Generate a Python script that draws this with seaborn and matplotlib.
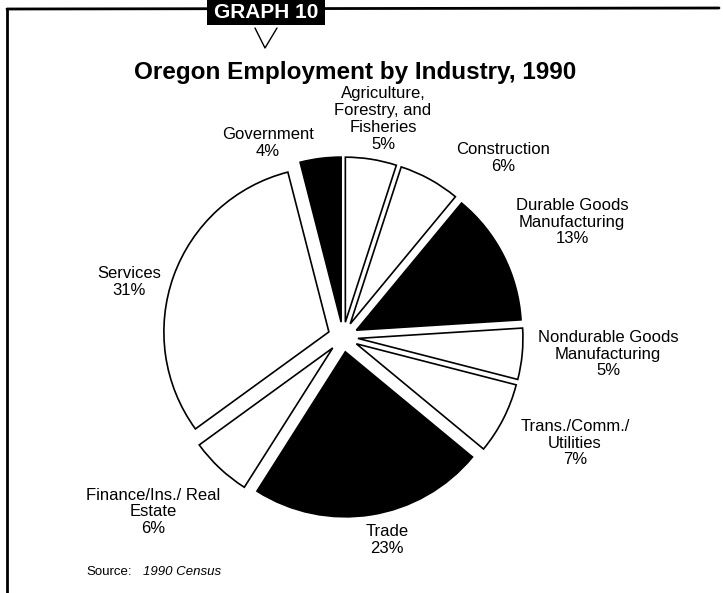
import seaborn as sns
from matplotlib import pyplot as plt
from matplotlib.patches import Rectangle

# data, clockwise from 12 o'clock
industries = ['Agriculture,\nForestry, and\nFisheries', 'Construction',
              'Durable Goods\nManufacturing', 'Nondurable Goods\nManufacturing',
              'Trans./Comm./\nUtilities', 'Trade', 'Finance/Ins./ Real\nEstate',
              'Services', 'Government']
shares = [5, 6, 13, 5, 7, 23, 6, 31, 4]
fills = ['white', 'white', 'black', 'white', 'white', 'black', 'white', 'white', 'black']

# label centres in picture pixels (x, y from top)
label_pos = [(383, 119), (503, 158), (572, 222), (608, 354), (575, 443),
             (387, 540), (153, 512), (129, 282), (268, 143)]

W, H = 723, 593

sns.set_theme(style='white')
plt.rcParams['font.family'] = ['Liberation Sans', 'DejaVu Sans']

fig = plt.figure(figsize=(W / 100, H / 100), dpi=100)
ax = fig.add_axes([0, 0, 1, 1])

# the pie, every slice pulled out ~15 px (explode is in data units here)
ax.pie(shares, colors=fills, startangle=90, counterclock=False,
       center=(343, H - 337), radius=165, explode=[15] * len(shares),
       wedgeprops=dict(edgecolor='black', linewidth=1.2), frame=True)

for name, pct, (x, y) in zip(industries, shares, label_pos):
    ax.text(x, H - y, f'{name}\n{pct}%', ha='center', va='center',
            fontsize=12, linespacing=1.15, color='black')

ax.text(355, H - 72, 'Oregon Employment by Industry, 1990', ha='center', va='center',
        fontsize=17.5, fontweight='bold', color='black')

# page frame and "GRAPH 10" tab
ax.plot([7, 7], [0, H - 9], color='black', lw=2)
ax.plot([7, 719], [H - 9, H - 8], color='black', lw=2)
ax.add_patch(Rectangle((207, H - 25), 118, 30, facecolor='black', edgecolor='none'))
ax.text(266, H - 12, 'GRAPH 10', ha='center', va='center', fontsize=15,
        fontweight='bold', color='white')
ax.plot([255, 265, 277], [H - 28, H - 48, H - 28], color='black', lw=1)

ax.text(86, H - 572, 'Source:', ha='left', va='center', fontsize=9.5, color='black')
ax.text(143, H - 572, '1990 Census', ha='left', va='center', fontsize=9.5,
        style='italic', color='black')

ax.set_xlim(0, W)
ax.set_ylim(0, H)
ax.set_aspect('equal')
ax.axis('off')

fig.savefig('out.png', dpi=100, facecolor='white')
